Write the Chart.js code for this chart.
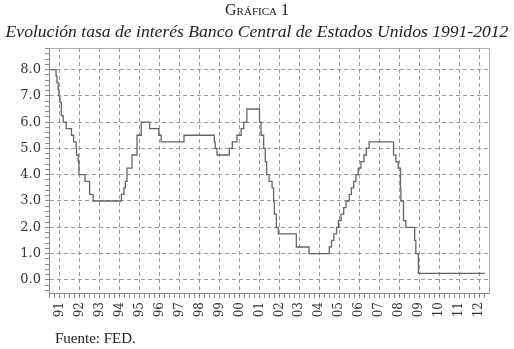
<!DOCTYPE html>
<html lang="es">
<head>
  <meta charset="UTF-8" />
  <title>Gráfica 1</title>
  <script src="https://cdn.jsdelivr.net/npm/chart.js"></script>
  <style>
    body {
      margin: 0;
      background: #fff;
      font-family: 'Liberation Serif', serif;
      color: #222;
    }
    .wrap {
      position: relative;
      width: 514px;
      height: 349px;
    }
    canvas {
      position: absolute;
      left: 0;
      top: 0;
    }
    .t1 {
      position: absolute;
      top: 1px;
      width: 514px;
      text-align: center;
      font-size: 16px;
      font-variant: small-caps;
    }
    .t2 {
      position: absolute;
      top: 21px;
      width: 514px;
      text-align: center;
      font-size: 17.6px;
      font-style: italic;
      white-space: nowrap;
    }
    .src {
      position: absolute;
      left: 55px;
      top: 330px;
      font-size: 15px;
    }
  </style>
</head>
<body>
  <div class="wrap">
    <canvas id="rateChart" width="514" height="349"></canvas>
    <div class="t1">Gráfica 1</div>
    <div class="t2">Evolución tasa de interés Banco Central de Estados Unidos 1991-2012</div>
    <div class="src">Fuente: FED.</div>
  </div>

  <script>
    // fed funds target changes (date the new rate started)
    const changeDates = [
      '1990-07-13', '1990-10-29', '1990-11-14', '1990-12-07', '1990-12-18',
      '1991-01-09', '1991-02-01', '1991-03-08', '1991-04-30', '1991-08-06',
      '1991-09-13', '1991-10-31', '1991-11-06', '1991-12-06', '1991-12-20',
      '1992-04-09', '1992-07-02', '1992-09-04',
      '1994-02-04', '1994-03-22', '1994-04-18', '1994-05-17', '1994-08-16', '1994-11-15',
      '1995-02-01', '1995-07-06', '1995-12-19', '1996-01-31', '1997-03-25',
      '1998-09-29', '1998-10-15', '1998-11-17',
      '1999-06-30', '1999-08-24', '1999-11-16',
      '2000-02-02', '2000-03-21', '2000-05-16',
      '2001-01-03', '2001-01-31', '2001-03-20', '2001-04-18', '2001-05-15', '2001-06-27',
      '2001-08-21', '2001-09-17', '2001-10-02', '2001-11-06', '2001-12-11',
      '2002-11-06', '2003-06-25',
      '2004-06-30', '2004-08-10', '2004-09-21', '2004-11-10', '2004-12-14',
      '2005-02-02', '2005-03-22', '2005-05-03', '2005-06-30', '2005-08-09',
      '2005-09-20', '2005-11-01', '2005-12-13',
      '2006-01-31', '2006-03-28', '2006-05-10', '2006-06-29',
      '2007-09-18', '2007-10-31', '2007-12-11',
      '2008-01-22', '2008-01-30', '2008-03-18', '2008-04-30', '2008-10-08',
      '2008-10-29', '2008-12-16',
      '2012-04-10'
    ];
    const rates = [
      8.00, 7.75, 7.50, 7.25, 7.00,
      6.75, 6.25, 6.00, 5.75, 5.50,
      5.25, 5.00, 4.75, 4.50, 4.00,
      3.75, 3.25, 3.00,
      3.25, 3.50, 3.75, 4.25, 4.75, 5.50,
      6.00, 5.75, 5.50, 5.25, 5.50,
      5.25, 5.00, 4.75,
      5.00, 5.25, 5.50,
      5.75, 6.00, 6.50,
      6.00, 5.50, 5.00, 4.50, 4.00, 3.75,
      3.50, 3.00, 2.50, 2.00, 1.75,
      1.25, 1.00,
      1.25, 1.50, 1.75, 2.00, 2.25,
      2.50, 2.75, 3.00, 3.25, 3.50,
      3.75, 4.00, 4.25,
      4.50, 4.75, 5.00, 5.25,
      4.75, 4.50, 4.25,
      3.50, 3.00, 2.25, 2.00, 1.50,
      1.00, 0.25,
      0.25
    ];
    const yearTicks = [1991, 1992, 1993, 1994, 1995, 1996, 1997, 1998, 1999, 2000, 2001,
      2002, 2003, 2004, 2005, 2006, 2007, 2008, 2009, 2010, 2011, 2012];
    const yearLabels = ['91', '92', '93', '94', '95', '96', '97', '98', '99', '00', '01',
      '02', '03', '04', '05', '06', '07', '08', '09', '10', '11', '12'];
    const rateTicks = [0, 1, 2, 3, 4, 5, 6, 7, 8];

    function toYear(s) {
      const d = new Date(s + 'T00:00:00Z');
      const start = Date.UTC(d.getUTCFullYear(), 0, 1);
      return d.getUTCFullYear() + (d - start) / (365 * 86400000);
    }

    const points = changeDates.map((d, i) => ({ x: toYear(d), y: rates[i] }));

    const isWhole = v => Math.abs(v - Math.round(v)) < 1e-6;
    const gridGray = '#9a9a9a';

    // light frame on top and right of the plot
    const framePlugin = {
      id: 'frame',
      afterDraw(chart) {
        const a = chart.chartArea;
        const ctx = chart.ctx;
        ctx.save();
        ctx.strokeStyle = '#b0b0b0';
        ctx.lineWidth = 1;
        ctx.beginPath();
        ctx.moveTo(a.left, a.top + 0.5);
        ctx.lineTo(a.right + 0.5, a.top + 0.5);
        ctx.lineTo(a.right + 0.5, a.bottom);
        ctx.stroke();
        ctx.restore();
      }
    };

    new Chart(document.getElementById('rateChart'), {
      type: 'line',
      data: {
        datasets: [{
          data: points,
          stepped: true,
          borderColor: '#666',
          borderWidth: 1.3,
          pointRadius: 0,
          fill: false
        }]
      },
      options: {
        responsive: false,
        animation: false,
        devicePixelRatio: 1,
        layout: { padding: { top: 48, right: 25, bottom: 0, left: 0 } },
        plugins: {
          legend: { display: false },
          tooltip: { enabled: false }
        },
        scales: {
          x: {
            type: 'linear',
            min: 1990.47,
            max: 2012.49,
            afterBuildTicks(s) {
              const t = [];
              for (let q = Math.round(1990.5 * 4); q <= 2012.5 * 4; q++) {
                const v = q / 4;
                if (v > s.min && v < s.max) t.push({ value: v });
              }
              s.ticks = t;
            },
            afterFit(s) { s.height = 56; },
            ticks: {
              autoSkip: false,
              minRotation: 90,
              maxRotation: 90,
              padding: 4,
              color: '#333',
              font: { family: 'DejaVu Serif', size: 12 },
              callback(v) {
                const i = yearTicks.indexOf(Math.round(v));
                return isWhole(v) && i >= 0 ? yearLabels[i] : '';
              }
            },
            grid: {
              color: c => isWhole(c.tick.value) ? gridGray : 'rgba(0,0,0,0)',
              tickColor: '#8a8a8a',
              tickLength: 5,
              lineWidth: 1
            },
            border: { color: '#8a8a8a', width: 1, dash: [4, 3] }
          },
          y: {
            min: -0.5,
            max: 8.82,
            afterBuildTicks(s) {
              const t = [];
              for (let k = -2; k <= 44; k++) {
                const v = k / 5;
                if (v > s.min && v < s.max) t.push({ value: v });
              }
              s.ticks = t;
            },
            afterFit(s) { s.width = 49; },
            ticks: {
              autoSkip: false,
              padding: 4,
              color: '#333',
              font: { family: 'DejaVu Serif', size: 13 },
              callback(v) {
                return isWhole(v) && rateTicks.includes(Math.round(v)) ? v.toFixed(1) : '';
              }
            },
            grid: {
              color: c => isWhole(c.tick.value) ? gridGray : 'rgba(0,0,0,0)',
              tickColor: '#8a8a8a',
              tickLength: 4,
              lineWidth: 1
            },
            border: { color: '#8a8a8a', width: 1, dash: [4, 3] }
          }
        }
      },
      plugins: [framePlugin]
    });
  </script>
</body>
</html>
